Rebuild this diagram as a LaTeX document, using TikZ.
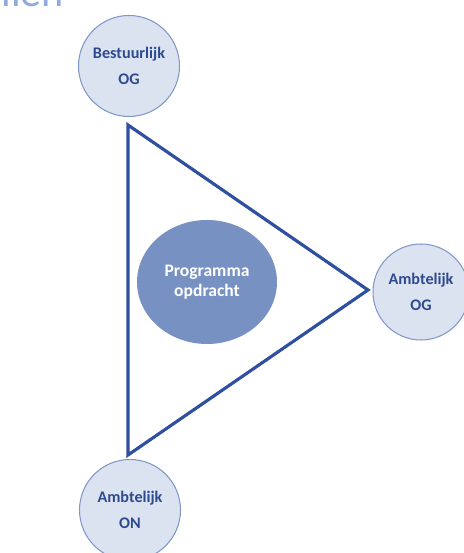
\documentclass[tikz,border=0pt]{standalone}
\usepackage{fontspec}
\setmainfont{Carlito}
\usepackage{tikz}
\usetikzlibrary{shapes.geometric}

\definecolor{lijnblauw}{HTML}{2F4F9F}
\definecolor{tekstblauw}{HTML}{2E4A8E}
\definecolor{vulblauw}{HTML}{DCE3F0}
\definecolor{randblauw}{HTML}{8297C9}
\definecolor{kernblauw}{HTML}{7891C3}
\definecolor{titelblauw}{HTML}{8FAADC}

\begin{document}
\begin{tikzpicture}[
	partij/.style={circle,draw=randblauw,line width=.6pt,fill=vulblauw,
		minimum size=2.02cm,inner sep=0pt,align=center,
		text=tekstblauw,font=\fontsize{9.2}{15}\selectfont\bfseries},
	kern/.style={ellipse,fill=kernblauw,minimum width=2.8cm,minimum height=2.48cm,
		inner sep=0pt,align=center,text=white,font=\fontsize{10}{11.5}\selectfont\bfseries}
	]
	\clip (0,0) rectangle (9.28,11.06);
	% titel valt buiten beeld
	\node[anchor=base west,inner sep=0pt,text=titelblauw,font=\fontsize{24}{24}\selectfont] (titel) at (0.02,10.93) {ilen};
	% driehoek
	\coordinate (hoekboven) at (2.56,8.56);
	\coordinate (hoekrechts) at (7.36,5.26);
	\coordinate (hoekonder) at (2.56,1.96);
	\draw[lijnblauw,line width=1.8pt,line join=miter] (hoekboven) -- (hoekrechts) -- (hoekonder) -- cycle;
	% partijen
	\node[partij] (bestuurlijk) at (2.58,9.74) {Bestuurlijk\\OG};
	\node[partij,minimum size=1.92cm] (ambtelijkog) at (8.42,5.22) {Ambtelijk\\OG};
	\node[partij] (ambtelijkon) at (2.6,0.86) {Ambtelijk\\ON};
	\node[kern] (opdracht) at (4.14,5.42) {Programma\\opdracht};
\end{tikzpicture}
\end{document}
